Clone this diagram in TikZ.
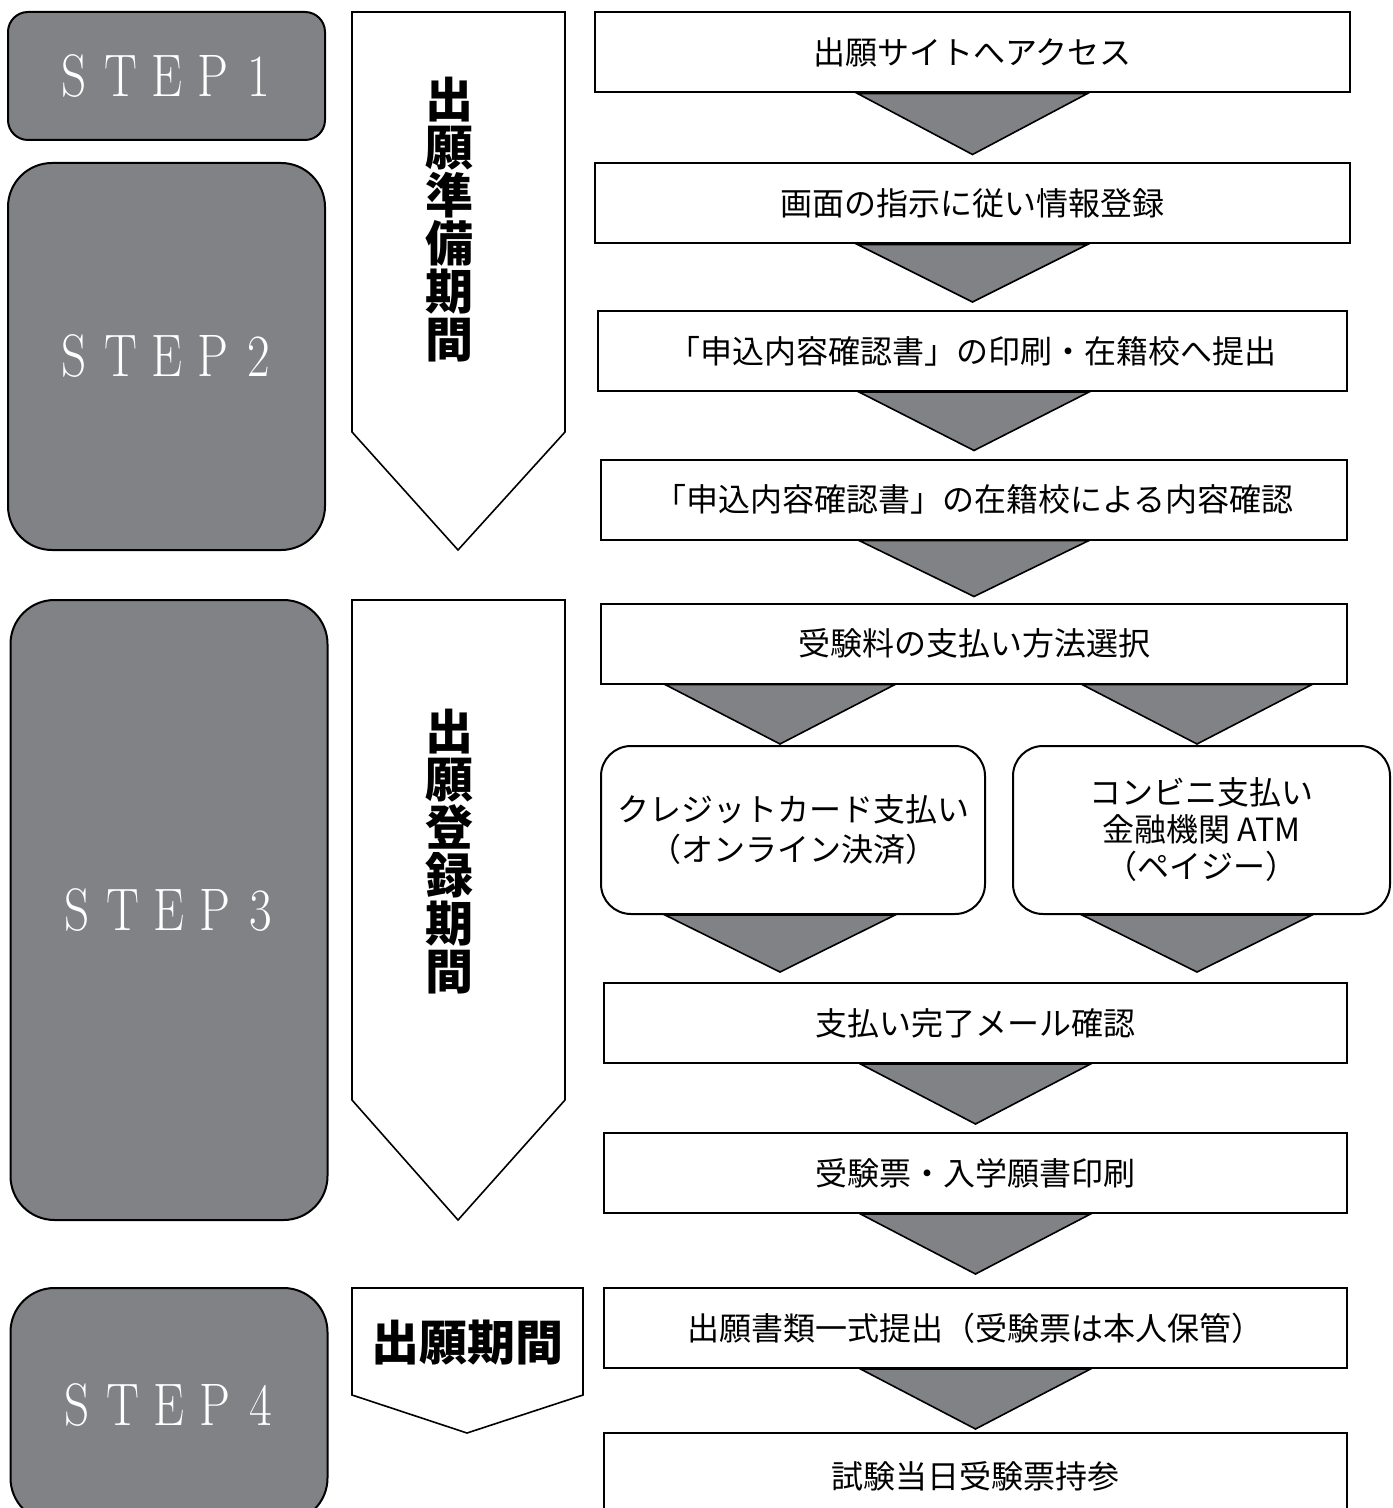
\documentclass[tikz,border=0pt]{standalone}
\usepackage{fontspec}
\newfontfamily\jp{Noto Sans CJK JP}
\usetikzlibrary{calc}

\definecolor{stepgray}{RGB}{128,130,133}
\tikzset{
  stepbox/.style={draw=black, line width=1pt, fill=stepgray, rounded corners=22pt, text=white,
    font=\fontsize{30}{30}\selectfont, minimum width=158.5pt},
  flowbox/.style={draw=black, line width=1pt, fill=white, minimum height=40pt,
    font=\jp\fontsize{16}{19}\selectfont},
  paybox/.style={flowbox, rounded corners=15pt, minimum height=84pt, align=center},
  period/.style={draw=black, line width=0.8pt, fill=white, line join=miter},
  periodtext/.style={font=\jp\bfseries\fontsize{24}{24}\selectfont, align=center, inner sep=0pt},
  tri/.style={draw=black, line width=0.8pt, fill=stepgray},
}
\newcommand{\stepletter}[1]{\makebox[23pt]{\scalebox{0.82}[1]{#1}}}
\newcommand{\stepword}[1]{\stepletter{S}\stepletter{T}\stepletter{E}\stepletter{P}\stepletter{#1}}
% [gap]{upper box}{lower box}{x reference}
\newcommand{\downtri}[4][8]{%
  \draw[tri] ($(#4 |- #2.south)+(-115,0)$) -- ($(#4 |- #2.south)+(115,0)$)
    -- ($(#4 |- #3.north)+(0,-#1)$) -- cycle;}

\begin{document}
\begin{tikzpicture}[x=0.5pt, y=-0.5pt]
	\useasboundingbox (0,0) rectangle (1392,1508);
	\clip (0,0) rectangle (1392,1508);
	% steps
	\node[stepbox, rounded corners=10pt, minimum height=64pt] (step1) at (166.5,76) {\stepword{1}};
	\node[stepbox, minimum height=193.5pt] (step2) at (166.5,356.5) {\stepword{2}};
	\node[stepbox, minimum height=310pt] (step3) at (169,910) {\stepword{3}};
	\node[stepbox, minimum height=117pt] (step4) at (169,1405) {\stepword{4}};
	% periods
	\draw[period] (352,12) -- (565,12) -- (565,432) -- (458,550) -- (352,432) -- cycle;
	\draw[period] (352,600) -- (565,600) -- (565,1100) -- (458,1220) -- (352,1100) -- cycle;
	\draw[period] (352,1288) -- (583,1288) -- (583,1395) -- (467,1433) -- (352,1395) -- cycle;
	\node[periodtext] (prep) at (449,220) {出\\願\\準\\備\\期\\間};
	\node[periodtext] (regist) at (449,852) {出\\願\\登\\録\\期\\間};
	\node[periodtext] (apply) at (467,1343) {出願期間};
	% flow
	\node[flowbox, minimum width=377.5pt] (b1) at (972.5,52.5) {出願サイトへアクセス};
	\node[flowbox, minimum width=377.5pt] (b2) at (972.5,203.5) {画面の指示に従い情報登録};
	\node[flowbox, minimum width=374.5pt] (b3) at (972.5,351) {「申込内容確認書」の印刷・在籍校へ提出};
	\node[flowbox, minimum width=373pt] (b4) at (974,499.5) {「申込内容確認書」の在籍校による内容確認};
	\node[flowbox, minimum width=373pt] (b5) at (974,643.5) {受験料の支払い方法選択};
	\node[paybox, minimum width=192pt, font=\jp\fontsize{16}{20}\selectfont] (card) at (793,830) {クレジットカード支払い\\（オンライン決済）};
	\node[paybox, minimum width=188.5pt, font=\jp\fontsize{16}{18.5}\selectfont] (conv) at (1201.5,830) {コンビニ支払い\\金融機関 ATM\\（ペイジー）};
	\node[flowbox, minimum width=371.5pt] (b6) at (975.5,1023) {支払い完了メール確認};
	\node[flowbox, minimum width=371.5pt] (b7) at (975.5,1173) {受験票・入学願書印刷};
	\node[flowbox, minimum width=371.5pt] (b8) at (975.5,1328) {出願書類一式提出（受験票は本人保管）};
	\node[flowbox, minimum width=371.5pt, minimum height=43.5pt] (b9) at (975.5,1476.5) {試験当日受験票持参};
	\coordinate (cardx) at (780,0);
	\coordinate (convx) at (1197,0);
	% arrows
	\downtri{b1}{b2}{b2.north}
	\downtri{b2}{b3}{b3.north}
	\downtri{b3}{b4}{b4.north}
	\downtri[6]{b4}{b5}{b5.north}
	\downtri[1]{b5}{card}{cardx}
	\downtri[1]{b5}{conv}{convx}
	\downtri[10]{card}{b6}{cardx}
	\downtri[10]{conv}{b6}{convx}
	\downtri{b6}{b7}{b7.north}
	\downtri[13]{b7}{b8}{b8.north}
	\downtri[3]{b8}{b9}{b9.north}
\end{tikzpicture}
\end{document}
